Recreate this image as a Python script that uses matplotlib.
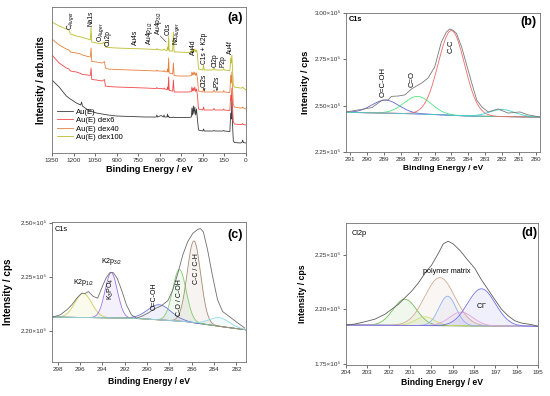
#!/usr/bin/env python3
# -*- coding: utf-8 -*-
import matplotlib
matplotlib.use("Agg")
import matplotlib.pyplot as plt
import numpy as np

# ---------------- (a) survey spectra ----------------
survey_be = [1350, 1300, 1250, 1232, 1222, 1180, 1150, 1144, 1138, 1100,
             1083, 1078, 1073, 1040, 1000, 985, 978, 960, 900, 800,
             700, 625, 620, 615, 590, 575, 570, 565, 550, 546,
             542, 538, 534, 510, 505, 500, 470, 400, 380, 376,
             372, 366, 362, 356, 350, 344, 338, 330, 300, 295,
             290, 230, 222, 215, 160, 155, 150, 112, 106, 102,
             98, 94, 88, 80, 40, 28, 23, 18, 0]
survey_dex100 = [131, 127, 124, 123, 119, 117, 116, 116, 115.5, 114,
                 113, 126, 111, 110, 109.5, 111, 106, 105.5, 105, 104.5,
                 104, 103.5, 104.5, 103.5, 103, 103, 104, 103, 102.5, 106,
                 103, 117, 102, 102, 121, 101, 101, 100.5, 101, 104,
                 101.5, 103.5, 101.5, 104, 101, 103, 99, 84, 83, 88,
                 83, 83, 85, 83, 83, 84.5, 83, 82.5, 95, 90,
                 98, 85, 68, 66, 65, 65, 66, 65, 63]
survey_dex40 = [114, 108, 104, 103, 101, 100, 99, 98.5, 98, 96.5,
                96, 105, 91.5, 91, 90, 91.5, 85, 84, 83.5, 83,
                82.5, 82, 83, 82, 82, 81.5, 82.5, 81.5, 81, 84,
                81, 95, 80, 79, 90, 77.5, 77, 77, 77.5, 81,
                78, 80.5, 78, 81, 77.5, 80, 75, 62, 61, 65,
                61, 61, 63, 61, 61, 62.5, 61, 60.5, 78, 70,
                81, 66, 48, 46, 45, 45, 46, 45, 44]
survey_dex6 = [98, 90, 85, 84, 82, 81, 79.5, 79, 78.5, 78,
               77.5, 85, 73.5, 73, 72, 73.5, 67, 66.5, 66, 65.5,
               65, 64.5, 65.5, 64.5, 64.5, 64, 65, 64, 63.5, 66,
               63.5, 76, 62.5, 62, 73, 61, 61, 61, 61.5, 66,
               62, 65, 62, 66, 61.5, 64, 58, 44, 43, 46,
               43, 43, 44.5, 43, 43, 44, 43, 42.5, 58, 52,
               65, 48, 31, 29, 28.5, 28.5, 29.5, 28.5, 28]
survey_au = [73, 66, 57, 55, 54, 50, 48, 51, 47, 43,
             42, 42.5, 41.5, 40, 39, 38.5, 38.5, 38, 37, 36.5,
             36, 36, 38, 36, 37.5, 36, 38, 36, 36, 39,
             36, 37, 35.5, 35.5, 36, 35.5, 35.5, 35.5, 36, 45,
             38, 47, 39, 46, 38, 44, 34, 23, 22, 24,
             22, 22, 22.5, 22, 22, 22.5, 22, 21.5, 40, 34,
             53, 30, 12, 10.5, 10, 10.5, 13, 10.5, 10]
survey_names = ["Au(E)", "Au(E) dex6", "Au(E) dex40", "Au(E) dex100"]
survey_colors = ["#3c3c3c", "#f24848", "#e8803c", "#bdbd2c"]
survey_ticks = [1350, 1200, 1050, 900, 750, 600, 450, 300, 150, 0]
# label text, binding energy, intensity of the bottom of the text
survey_labels = [("C$_{Auger}$", 1222, 123), ("Na1s", 1078, 127.5),
                 ("O$_{Auger}$", 1014, 111), ("Cu2p", 962, 107),
                 ("Au4s", 772, 108), ("Au4p$_{1/2}$", 672, 108),
                 ("Au4p$_{3/2}$", 606, 118), ("O1s", 544, 118),
                 ("Na$_{Auger}$", 484, 108), ("Au4d", 367, 98),
                 ("C1s + K2p", 292, 89), ("Cl2p", 216, 86),
                 ("P2p", 158, 86), ("Au4f", 107, 99)]
survey_arrows = [("Cl2s", 290, 66), ("P2s", 202, 66)]

# ---------------- (b) C1s, Au(E) ----------------
b_be = [291.24, 290.3, 289.7, 289.1, 288.75, 288.55, 288.15, 287.76, 287.36,
        286.77, 286.38, 285.99, 285.6, 285.3, 285.1, 284.9, 284.7, 284.4,
        284.1, 283.8, 283.5, 283.2, 282.83, 282.24, 281.65, 280.95, 280.46,
        279.77]
b_counts = [2.466, 2.48, 2.49, 2.53, 2.531, 2.55, 2.552, 2.558, 2.59,
            2.622, 2.649, 2.709, 2.843, 2.897, 2.914, 2.906, 2.89, 2.817,
            2.72, 2.622, 2.53, 2.493, 2.466, 2.482, 2.46, 2.466, 2.45,
            2.439]
b_base_be = [291.24, 288.0, 286.0, 284.0, 282.0, 279.77]
b_base = [2.464, 2.458, 2.452, 2.444, 2.441, 2.438]
b_centers = [288.9, 287.0, 285.0, 282.0]
b_heights = [0.07, 0.095, 0.457, 0.038]
b_widths = [0.8, 0.8, 0.78, 0.75]
b_colors = ["#6464d2", "#4ee67e", "#ee6a6a", "#3ed2d2"]
b_labels = [("O=C-OH", 289.05, 2.545), ("C=O", 287.35, 2.60),
            ("C-C", 285.0, 2.785)]
b_yticks = [2.25, 2.50, 2.75, 3.00]

# ---------------- (c) C1s, Au(E) dex40 ----------------
c_be = [298.41, 297.76, 297.17, 296.73, 296.28, 295.84, 295.54, 295.24,
        294.8, 294.41, 294.06, 293.67, 293.32, 293.02, 292.67, 292.28,
        291.84, 291.39, 290.95, 290.5, 289.91, 289.32, 288.73, 288.13,
        287.69, 287.24, 286.8, 286.36, 285.91, 285.47, 285.23, 284.96,
        284.58, 284.13, 283.69, 283.24, 282.65, 282.06, 281.26]
c_counts = [2.2127, 2.2148, 2.2194, 2.224, 2.2303, 2.2349, 2.2346, 2.2364,
            2.2318, 2.2303, 2.2395, 2.2488, 2.254, 2.254, 2.2488, 2.238,
            2.224, 2.2148, 2.2117, 2.2133, 2.2164, 2.2204, 2.2231, 2.228,
            2.238, 2.2534, 2.2704, 2.2827, 2.2904, 2.2941, 2.2949, 2.2918,
            2.275, 2.2503, 2.2287, 2.2179, 2.2133, 2.2086, 2.2025]
c_base_be = [298.5, 291.3, 286.6, 282.4, 281.15]
c_base = [2.2127, 2.2117, 2.2086, 2.2025, 2.2009]
c_centers = [295.7, 293.2, 288.9, 287.1, 285.8, 283.5]
c_heights = [0.0224, 0.042, 0.014, 0.048, 0.076, 0.008]
c_widths = [0.75, 0.55, 1.05, 0.6, 0.6, 0.9]
c_colors = ["#cfcf58", "#9c74e2", "#6a72d8", "#80cc70", "#a88a72", "#8fd8e8"]
c_yticks = [2.20, 2.25, 2.30]
c_ytick_labels = ["2.20×10⁵", "2.25×10⁵", "2.50×10⁵"]

# ---------------- (d) Cl2p, Au(E) dex40 ----------------
d_be = [204.0, 203.58, 203.11, 202.64, 202.17, 201.86, 201.55, 201.24,
        200.93, 200.61, 200.3, 199.99, 199.68, 199.44, 199.21, 198.98,
        198.66, 198.35, 197.96, 197.65, 197.34, 197.03, 196.71, 196.4,
        196.09, 195.78, 195.47, 195.23, 195.0]
d_counts = [2.1856, 2.1865, 2.1886, 2.191, 2.1955, 2.2, 2.2045, 2.2105,
            2.2165, 2.224, 2.233, 2.2404, 2.2509, 2.2599, 2.2623, 2.2599,
            2.2539, 2.2464, 2.2374, 2.2269, 2.218, 2.209, 2.2, 2.194,
            2.1895, 2.1874, 2.1865, 2.1856, 2.1844]
d_base_be = [204.0, 195.0]
d_base = [2.1856, 2.1844]
d_centers = [201.24, 200.3, 199.6, 199.24, 198.6, 197.65]
d_heights = [0.024, 0.008, 0.044, 0.027, 0.0125, 0.034]
d_widths = [0.55, 0.45, 0.7, 0.4, 0.55, 0.65]
d_colors = ["#72c052", "#c8e070", "#d2aa92", "#8eaef6", "#e0a2e0", "#7272e6"]
d_yticks = [2.15, 2.20, 2.25]
d_ytick_labels = ["1.75×10⁵", "2.20×10⁵", "2.25×10⁵"]


def __style_axes(ax):
  """Frame and tick look shared by the four panels."""
  for spine in ax.spines.values():
    spine.set_linewidth(0.6)
    spine.set_color("#707070")
  ax.tick_params(direction="out", length=2, width=0.5, colors="#303030",
                 labelsize=4.6, pad=1.5)


def __draw_fit(ax, base_be, base, centers, heights, widths, colors, fill):
  """Draws the fitted components above the background line."""
  grid = np.linspace(min(base_be), max(base_be), 600)
  bg = np.interp(grid, base_be[::-1], base[::-1])
  for c, h, w, col in zip(centers, heights, widths, colors):
    comp = bg + h * np.exp(-0.5 * ((grid - c) / w) ** 2)
    if fill:
      ax.fill_between(grid, bg, comp, color=col, alpha=0.10, lw=0)
    ax.plot(grid, comp, color=col, lw=0.6)


def __panel_a(ax):
  for vals, name, col in zip([survey_au, survey_dex6, survey_dex40,
                              survey_dex100], survey_names, survey_colors):
    ax.plot(survey_be, vals, color=col, lw=0.6, label=name)
  ax.set_xlim(1350, 0)
  ax.set_ylim(0, 146)
  ax.set_yticks([])
  ax.set_xticks(survey_ticks)
  for text, x, y in survey_labels:
    ax.text(x, y, text, rotation=90, ha="center", va="bottom", fontsize=4.8)
  ax.plot([596, 556], [117, 111], color="#303030", lw=0.4)
  for text, x, y in survey_arrows:
    ax.annotate("", xy=(x, y - 4), xytext=(x, y),
                arrowprops=dict(arrowstyle="-|>", lw=0.4, color="#303030",
                                mutation_scale=3))
    ax.text(x, y + 0.5, text, rotation=90, ha="center", va="bottom",
            fontsize=4.8)
  handles, labels = ax.get_legend_handles_labels()
  ax.legend(handles, labels, loc="lower left", bbox_to_anchor=(0.0, 0.05),
            fontsize=5.5, frameon=False, handlelength=2.2, handletextpad=0.4,
            labelspacing=0.15, borderaxespad=0.2)
  ax.text(0.943, 0.925, "(a)", transform=ax.transAxes, ha="center",
          va="center", fontsize=9, fontweight="bold")
  ax.set_xlabel("Binding Energy / eV", fontsize=6.6, fontweight="bold")
  ax.set_ylabel("Intensity / arb.units", fontsize=6.9, fontweight="bold")
  ax.xaxis.set_label_coords(0.5, -0.085)
  ax.yaxis.set_label_coords(-0.03, 0.5)


def __panel_b(ax):
  ax.plot(b_base_be, b_base, color="#f060d0", lw=0.7)
  __draw_fit(ax, b_base_be, b_base, b_centers, b_heights, b_widths, b_colors,
             False)
  ax.plot(b_be, b_counts, color="#7a7a7a", lw=0.6)
  for text, x, y in b_labels:
    ax.text(x, y, text, rotation=90, ha="center", va="bottom", fontsize=5.5)
  ax.set_xlim(291.24, 279.76)
  ax.set_ylim(2.25, 3.00)
  ax.set_xticks(range(291, 279, -1))
  ax.set_yticks(b_yticks)
  ax.set_yticklabels([f"{v:.2f}×10⁵" for v in b_yticks])
  ax.text(0.012, 0.975, "C1s", transform=ax.transAxes, ha="left", va="top",
          fontsize=5.3, fontweight="bold")
  ax.text(0.943, 0.937, "(b)", transform=ax.transAxes, ha="center",
          va="center", fontsize=9, fontweight="bold")
  ax.set_xlabel("Binding Energy / eV", fontsize=6.0, fontweight="bold")
  ax.set_ylabel("Intensity / cps", fontsize=6.8, fontweight="bold")
  ax.xaxis.set_label_coords(0.5, -0.095)
  ax.yaxis.set_label_coords(-0.186, 0.5)


def __panel_c(ax):
  ax.plot(c_base_be, c_base, color="#c4b046", lw=0.6)
  __draw_fit(ax, c_base_be, c_base, c_centers, c_heights, c_widths, c_colors,
             True)
  ax.plot(c_be, c_counts, color="#6e6e6e", lw=0.6)
  ax.text(295.7, 2.2395, "K2p$_{1/2}$", ha="center", va="bottom", fontsize=5)
  ax.text(293.2, 2.2595, "K2p$_{3/2}$", ha="center", va="bottom", fontsize=5)
  ax.text(293.2, 2.239, "K$_3$PO$_4$", rotation=90, ha="center",
          va="center", fontsize=5)
  ax.text(289.4, 2.232, "O=C-OH", rotation=90, ha="center", va="center",
          fontsize=5)
  ax.text(287.1, 2.2305, "C-O / C-OH", rotation=90, ha="center",
          va="center", fontsize=5)
  ax.text(285.55, 2.258, "C-C / C-H", rotation=90, ha="center", va="center",
          fontsize=5)
  ax.set_xlim(298.5, 281.15)
  ax.set_ylim(2.171, 2.301)
  ax.set_xticks(range(298, 281, -2))
  ax.set_yticks(c_yticks)
  ax.set_yticklabels(c_ytick_labels)
  ax.text(0.012, 0.943, "C1s", transform=ax.transAxes, ha="left",
          va="center", fontsize=5.3)
  ax.text(0.943, 0.907, "(c)", transform=ax.transAxes, ha="center",
          va="center", fontsize=9, fontweight="bold")
  ax.set_xlabel("Binding Energy / eV", fontsize=6.2, fontweight="bold")
  ax.set_ylabel("Intensity / cps", fontsize=7.2, fontweight="bold")
  ax.xaxis.set_label_coords(0.5, -0.105)
  ax.yaxis.set_label_coords(-0.2, 0.5)


def __panel_d(ax):
  ax.plot(d_base_be, d_base, color="#6c6c50", lw=0.6)
  __draw_fit(ax, d_base_be, d_base, d_centers, d_heights, d_widths, d_colors,
             True)
  ax.plot(d_be, d_counts, color="#5e5e5e", lw=0.6)
  ax.text(199.28, 2.2348, "polymer matrix", ha="center", va="center",
          fontsize=5.2)
  ax.text(197.64, 2.2036, "Cl$^{-}$", ha="center", va="center", fontsize=5.2)
  ax.set_xlim(204, 195)
  ax.set_ylim(2.149, 2.279)
  ax.set_xticks(range(204, 194, -1))
  ax.set_yticks(d_yticks)
  ax.set_yticklabels(d_ytick_labels)
  ax.text(0.03, 0.927, "Cl2p", transform=ax.transAxes, ha="left",
          va="center", fontsize=5.3)
  ax.text(0.953, 0.975, "(d)", transform=ax.transAxes, ha="center",
          va="top", fontsize=9, fontweight="bold")
  ax.set_xlabel("Binding Energy / eV", fontsize=6.2, fontweight="bold")
  ax.set_ylabel("Intensity / cps", fontsize=6.3, fontweight="bold")
  ax.xaxis.set_label_coords(0.5, -0.092)
  ax.yaxis.set_label_coords(-0.203, 0.5)


def __cmd():
  plt.rcParams["font.family"] = ["Liberation Sans", "DejaVu Sans"]
  plt.rcParams["mathtext.fontset"] = "custom"
  plt.rcParams["mathtext.rm"] = "Liberation Sans"
  plt.rcParams["mathtext.it"] = "Liberation Sans:italic"
  plt.rcParams["mathtext.bf"] = "Liberation Sans:bold"

  fig = plt.figure(figsize=(5.5, 3.96), dpi=100)
  ax_a = fig.add_axes([0.0945, 0.6136, 0.3527, 0.3687])
  ax_b = fig.add_axes([0.6291, 0.6162, 0.3527, 0.3510])
  ax_c = fig.add_axes([0.0945, 0.0859, 0.3527, 0.3535])
  ax_d = fig.add_axes([0.6291, 0.0783, 0.3491, 0.3586])
  for ax in (ax_a, ax_b, ax_c, ax_d):
    __style_axes(ax)
  __panel_a(ax_a)
  __panel_b(ax_b)
  __panel_c(ax_c)
  __panel_d(ax_d)
  fig.savefig("out.png", dpi=100)


if __name__ == '__main__':
  __cmd()
